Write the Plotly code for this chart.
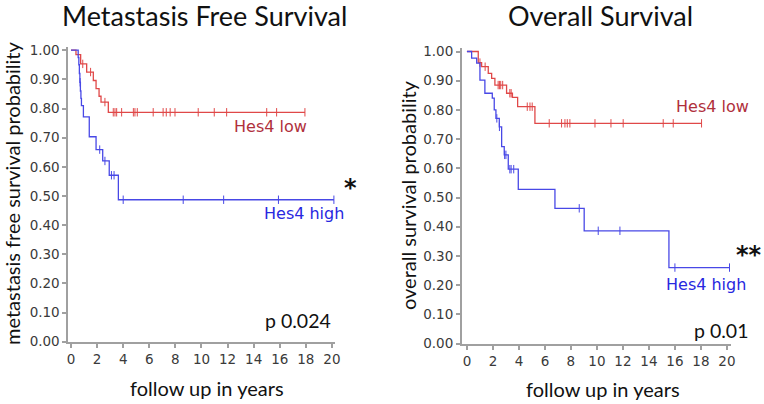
import bisect
import plotly.graph_objects as go

# Kaplan-Meier Stufen (Zeit in Jahren, Ueberlebensanteil)
mfs_low_t = [0, 0.38, 0.74, 1.2, 1.71, 1.92, 2.15, 2.3, 2.86, 17.93]
mfs_low_s = [1.0, 0.985, 0.953, 0.925, 0.896, 0.868, 0.842, 0.822, 0.787, 0.787]
mfs_low_cens = [0.9, 1.5, 2.6, 3.24, 3.37, 3.5, 3.88, 4.78, 4.9, 5.08, 6.3, 7.06,
                7.3, 7.6, 7.97, 9.75, 10.98, 11.93, 15.0, 15.76, 17.93]

mfs_high_t = [0, 0.55, 0.6, 0.64, 0.68, 0.72, 0.76, 0.8, 0.95, 1.4, 1.92, 2.43, 2.93, 3.63, 20.15]
mfs_high_s = [1.0, 0.975, 0.95, 0.92, 0.89, 0.86, 0.835, 0.81, 0.771, 0.703, 0.659, 0.62, 0.571, 0.487, 0.487]
mfs_high_cens = [0.7, 2.2, 2.6, 3.1, 3.3, 4.0, 8.6, 11.7, 15.9, 20.15]

os_low_t = [0, 0.87, 1.13, 1.64, 1.9, 2.15, 3.05, 3.5, 3.9, 5.23, 18.05]
os_low_s = [1.0, 0.962, 0.948, 0.925, 0.908, 0.885, 0.857, 0.843, 0.811, 0.754, 0.754]
os_low_cens = [1.0, 1.4, 2.4, 2.5, 2.6, 2.75, 3.3, 3.4, 4.64, 4.85, 5.02, 6.33, 7.28,
               7.54, 7.72, 7.92, 9.85, 11.08, 12.02, 15.1, 15.87, 18.05]

os_high_t = [0, 0.36, 0.75, 1.0, 1.38, 1.95, 2.1, 2.23, 2.49, 2.67, 2.87, 3.18, 3.95,
             6.77, 9.02, 15.54, 20.2]
os_high_s = [1.0, 0.977, 0.96, 0.902, 0.857, 0.84, 0.8, 0.771, 0.742, 0.674, 0.646,
             0.597, 0.528, 0.463, 0.386, 0.26, 0.26]
os_high_cens = [2.3, 2.5, 2.9, 3.0, 3.3, 3.4, 3.6, 8.64, 10.1, 11.77, 16.0, 20.2]

x_ticks = list(range(0, 21, 2))

RED = "#e04848"
BLUE = "#4848e6"
AXIS = "#a0a0a0"


def surv_at(times, surv, t):
    return surv[bisect.bisect_right(times, t) - 1]


fig = go.Figure()


def add_curve(times, surv, cens, color, xa, ya):
    fig.add_trace(go.Scatter(x=times, y=surv, mode="lines", line_shape="hv",
                             line=dict(color=color, width=1.3),
                             xaxis=xa, yaxis=ya, hoverinfo="skip"))
    fig.add_trace(go.Scatter(x=cens, y=[surv_at(times, surv, c) for c in cens],
                             mode="markers",
                             marker=dict(symbol="line-ns", size=6,
                                         line=dict(color=color, width=1)),
                             xaxis=xa, yaxis=ya, hoverinfo="skip"))


add_curve(mfs_low_t, mfs_low_s, mfs_low_cens, RED, "x", "y")
add_curve(mfs_high_t, mfs_high_s, mfs_high_cens, BLUE, "x", "y")
add_curve(os_low_t, os_low_s, os_low_cens, RED, "x2", "y2")
add_curve(os_high_t, os_high_s, os_high_cens, BLUE, "x2", "y2")

W, H = 764, 404

tickfont = dict(family="DejaVu Sans", size=13.5, color="#3a3a3a")
xcommon = dict(tickvals=x_ticks, showline=True, linecolor=AXIS, linewidth=2,
               ticks="outside", ticklen=4, tickcolor=AXIS, tickwidth=1.5,
               showgrid=False, zeroline=False, tickfont=tickfont, automargin=False)
ycommon = dict(dtick=0.1, tick0=0, tickformat=".2f", showline=True, linecolor=AXIS,
               linewidth=2, ticks="outside", ticklen=4, tickcolor=AXIS, tickwidth=1.5,
               showgrid=False, zeroline=False, tickfont=tickfont, automargin=False)

fig.update_layout(
    width=W, height=H,
    margin=dict(l=0, r=0, t=0, b=0),
    plot_bgcolor="white", paper_bgcolor="white",
    showlegend=False,
    xaxis=dict(xcommon, range=[-0.2, 20.25], domain=[68.4 / W, 335.2 / W], anchor="y"),
    yaxis=dict(ycommon, range=[0, 1.012], domain=[(H - 341.7) / H, (H - 46.7) / H], anchor="x"),
    xaxis2=dict(xcommon, range=[-0.38, 20.3], domain=[462 / W, 730.8 / W], anchor="y2"),
    yaxis2=dict(ycommon, range=[0, 1.012], domain=[(H - 343.5) / H, (H - 48) / H], anchor="x2"),
)


def label(text, x, y, size, color="#111111", family="Lato", angle=0):
    fig.add_annotation(text=text, x=x / W, y=1 - y / H, xref="paper", yref="paper",
                       showarrow=False, xanchor="center", yanchor="middle",
                       textangle=angle, font=dict(family=family, size=size, color=color))


label("Metastasis Free Survival", 204, 15, 27)
label("Overall Survival", 600, 15, 27)
label("follow up in years", 207, 388, 20)
label("follow up in years", 603, 389, 20)
label("metastasis free survival probability", 12, 193, 20, angle=-90)
label("overall survival probability", 408, 195, 20, angle=-90)
label("Hes4 low", 270, 126, 16, "#b0303c", "DejaVu Sans")
label("Hes4 high", 304, 213, 16, "#2828e0", "DejaVu Sans")
label("Hes4 low", 712, 106, 16, "#b0303c", "DejaVu Sans")
label("Hes4 high", 706, 284, 16, "#2828e0", "DejaVu Sans")
label("<b>*</b>", 350, 188, 24, "#111111", "DejaVu Sans")
label("<b>**</b>", 749, 255, 24, "#111111", "DejaVu Sans")
label("p 0.024", 298, 320, 19.5)
label("p 0.01", 721, 330, 19.5)

# Seitenrand des Browsers entfernen, damit das Bild bei (0,0) beginnt
fig.write_html("out.html", config={"displayModeBar": False},
               post_script="document.body.style.margin='0';")
